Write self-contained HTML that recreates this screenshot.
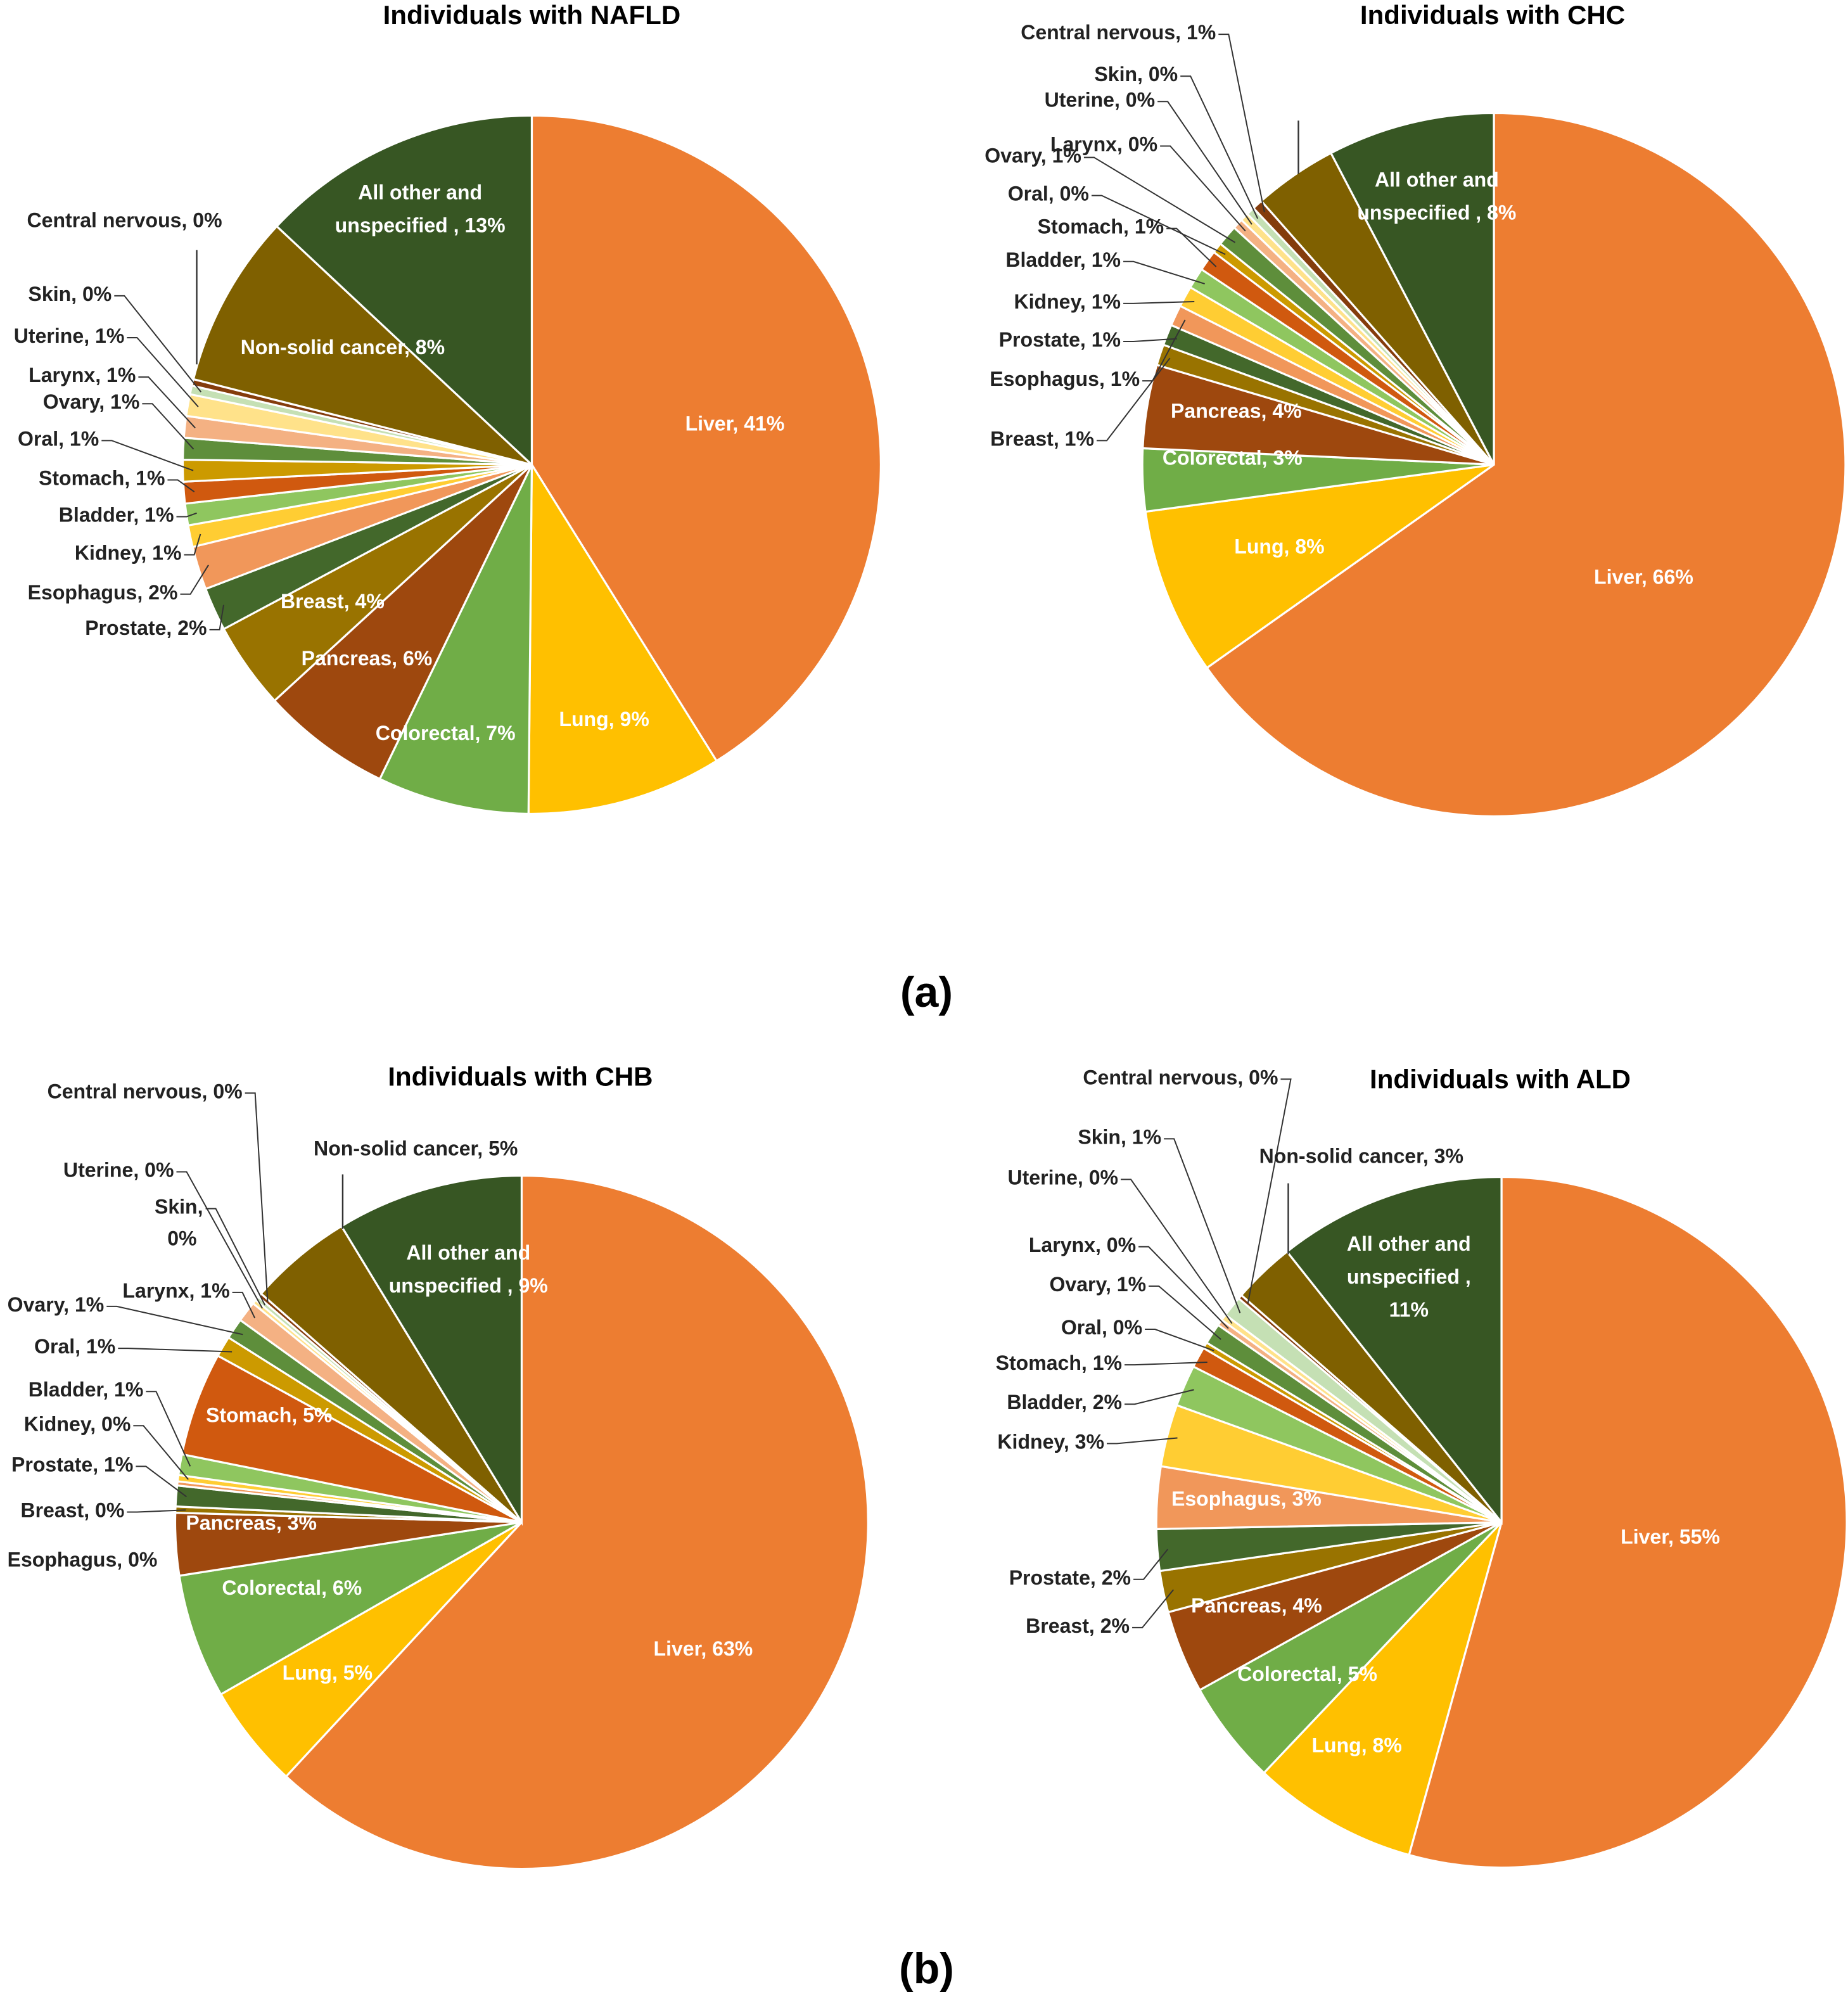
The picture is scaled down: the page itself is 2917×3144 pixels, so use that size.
<!DOCTYPE html>
<html><head><meta charset="utf-8">
<style>
html,body{margin:0;padding:0;background:#fff;}
svg{display:block;}
text{font-family:"Liberation Sans",Arial,sans-serif;font-weight:bold;}
</style></head>
<body>
<svg id="fig" width="2917" height="3144" viewBox="0 0 1456 1569" preserveAspectRatio="none" xmlns="http://www.w3.org/2000/svg">
<text x="730" y="793" text-anchor="middle" font-size="34" fill="#000">(a)</text>
<text x="730" y="1562" text-anchor="middle" font-size="34" fill="#000">(b)</text>
</svg>
<script>
const categories = ["Liver","Lung","Colorectal","Pancreas","Breast","Prostate","Esophagus","Kidney","Bladder","Stomach","Oral","Ovary","Larynx","Uterine","Skin","Central nervous","Non-solid cancer","All other and unspecified"];
const naflValues = [41,9,7,6,4,2,2,1,1,1,1,1,1,1,0.4,0.3,8,13];
const chcValues  = [68,8,3,4,1,1,1,1,1,1,0.5,1,0.5,0.4,0.4,0.5,4,8];
const chbValues  = [64,5,6,3,0.3,1,0.2,0.3,1,5,1,1,1,0.2,0.2,0.2,5,9];
const aldValues  = [56,8,5,4,2,2,3,3,2,1,0.3,1,0.3,0.3,1,0.2,3,11];
const colors = ["#ED7D31","#FFC000","#70AD47","#9E480E","#997300","#43682B","#F1975A","#FFCD33","#8FC65F","#D0590F","#CC9A00","#5E8E3B","#F4B183","#FFE28A","#C5E0B4","#843C0C","#7F6000","#375623"];

const NS="http://www.w3.org/2000/svg";
const svg=document.getElementById('fig');
function mk(tag,attrs,parent){const e=document.createElementNS(NS,tag);for(const k in attrs)e.setAttribute(k,attrs[k]);(parent||svg).appendChild(e);return e;}

const charts=[
 {name:"nafld",title:"Individuals with NAFLD",tx:419,ty:19,cx:419,cy:366,r:275,values:naflValues,
  inside:[[["All other and","unspecified , 13%"],331,157],[["Non-solid cancer, 8%"],270,279],[["Liver, 41%"],579,339],[["Lung, 9%"],476,572],[["Colorectal, 7%"],351,583],[["Pancreas, 6%"],289,524],[["Breast, 4%"],262,479]],
  outside:[["Central nervous, 0%",175,179,-1],["Skin, 0%",88,237,14],["Uterine, 1%",98,270,13],["Larynx, 1%",107,301,12],["Ovary, 1%",110,322,11],["Oral, 1%",78,351,10],["Stomach, 1%",130,382,9],["Bladder, 1%",137,411,8],["Kidney, 1%",143,441,7],["Esophagus, 2%",140,472,6],["Prostate, 2%",163,500,5]],
  extraLeader:[155,197,155,287]},
 {name:"chc",title:"Individuals with CHC",tx:1176,ty:19,cx:1177,cy:366,r:277,values:chcValues,
  inside:[[["All other and","unspecified , 8%"],1132,147],[["Pancreas, 4%"],974,329],[["Colorectal, 3%"],971,366],[["Lung, 8%"],1008,436],[["Liver, 66%"],1295,460]],
  outside:[["Central nervous, 1%",958,31,15],["Skin, 0%",928,64,14],["Uterine, 0%",910,84,13],["Larynx, 0%",912,119,12],["Ovary, 1%",852,128,11],["Oral, 0%",858,158,10],["Stomach, 1%",917,184,9],["Bladder, 1%",883,210,8],["Kidney, 1%",883,243,7],["Prostate, 1%",883,273,5],["Esophagus, 1%",898,304,6],["Breast, 1%",862,351,4]],
  extraLeader:[1023,95,1023,137]},
 {name:"chb",title:"Individuals with CHB",tx:410,ty:855,cx:411,cy:1199,r:273,values:chbValues,
  inside:[[["All other and","unspecified , 9%"],369,992],[["Stomach, 5%"],212,1120],[["Pancreas, 3%"],198,1205],[["Colorectal, 6%"],230,1256],[["Lung, 5%"],258,1323],[["Liver, 63%"],554,1304]],
  outside:[["Central nervous, 0%",191,865,15],["Non-solid cancer, 5%",408,910,-1],["Uterine, 0%",137,927,13],["Skin,",160,956,14],["0%",155,981,-1],["Larynx, 1%",181,1022,12],["Ovary, 1%",82,1033,11],["Oral, 1%",91,1066,10],["Bladder, 1%",113,1100,8],["Kidney, 0%",103,1127,7],["Prostate, 1%",105,1159,5],["Breast, 0%",98,1195,4],["Esophagus, 0%",124,1234,-1]],
  extraLeader:[270,925,270,968]},
 {name:"ald",title:"Individuals with ALD",tx:1182,ty:857,cx:1183,cy:1199,r:272,values:aldValues,
  inside:[[["All other and","unspecified ,","11%"],1110,985],[["Esophagus, 3%"],982,1186],[["Pancreas, 4%"],990,1270],[["Colorectal, 5%"],1030,1324],[["Lung, 8%"],1069,1380],[["Liver, 55%"],1316,1216]],
  outside:[["Central nervous, 0%",1007,854,15],["Non-solid cancer, 3%",1153,916,-1],["Skin, 1%",915,901,14],["Uterine, 0%",881,933,13],["Larynx, 0%",895,986,12],["Ovary, 1%",903,1017,11],["Oral, 0%",900,1051,10],["Stomach, 1%",884,1079,9],["Bladder, 2%",884,1110,8],["Kidney, 3%",870,1141,7],["Prostate, 2%",891,1248,5],["Breast, 2%",890,1286,4]],
  extraLeader:[1015,932,1015,988]}
];

charts.forEach(c=>{
  const g=mk('g',{});
  
  
  const t=mk('text',{x:c.tx,y:c.ty,'text-anchor':'middle','font-size':21,fill:'#000'},g);
  t.textContent=c.title;
  
  
  const total=c.values.reduce((a,b)=>a+b,0);
  let a0=0; const mids=[];
  const pt=(ang,rr)=>[c.cx+rr*Math.sin(ang),c.cy-rr*Math.cos(ang)];
  c.values.forEach((v,i)=>{
    const a1=a0+v/total*2*Math.PI;
    const p0=pt(a0,c.r),p1=pt(a1,c.r);
    const large=(a1-a0)>Math.PI?1:0;
    const p=mk('path',{d:`M${c.cx},${c.cy}L${p0[0]},${p0[1]}A${c.r},${c.r} 0 ${large} 1 ${p1[0]},${p1[1]}Z`,fill:colors[i],stroke:'#fff','stroke-width':1.6},g);
    
    
    mids.push((a0+a1)/2);
    a0=a1;
  });
  c.inside.forEach(l=>{
    l[0].forEach((s,k)=>{
      const tx=mk('text',{x:l[1],y:l[2]+k*26,'text-anchor':'middle','font-size':16,fill:'#fff'},g);
      tx.textContent=s;
      
      
    });
  });
  c.outside.forEach(l=>{
    const tx=mk('text',{x:l[1],y:l[2],'text-anchor':'end','font-size':16,fill:'#222'},g);
    tx.textContent=l[0];
    
    
    if(l[3]>=0){
      const ap=pt(mids[l[3]],c.r*0.97);
      const sx=l[1]+2, sy=l[2]-4;
      const ln=mk('polyline',{points:`${sx},${sy} ${sx+8},${sy} ${ap[0]},${ap[1]}`,fill:'none',stroke:'#333','stroke-width':1},g);
      
      
    }
  });
  if(c.extraLeader){
    const e=c.extraLeader;
    const ln=mk('line',{x1:e[0],y1:e[1],x2:e[2],y2:e[3],stroke:'#333','stroke-width':1.2},g);
    
    
  }
});
</script>
</body></html>
